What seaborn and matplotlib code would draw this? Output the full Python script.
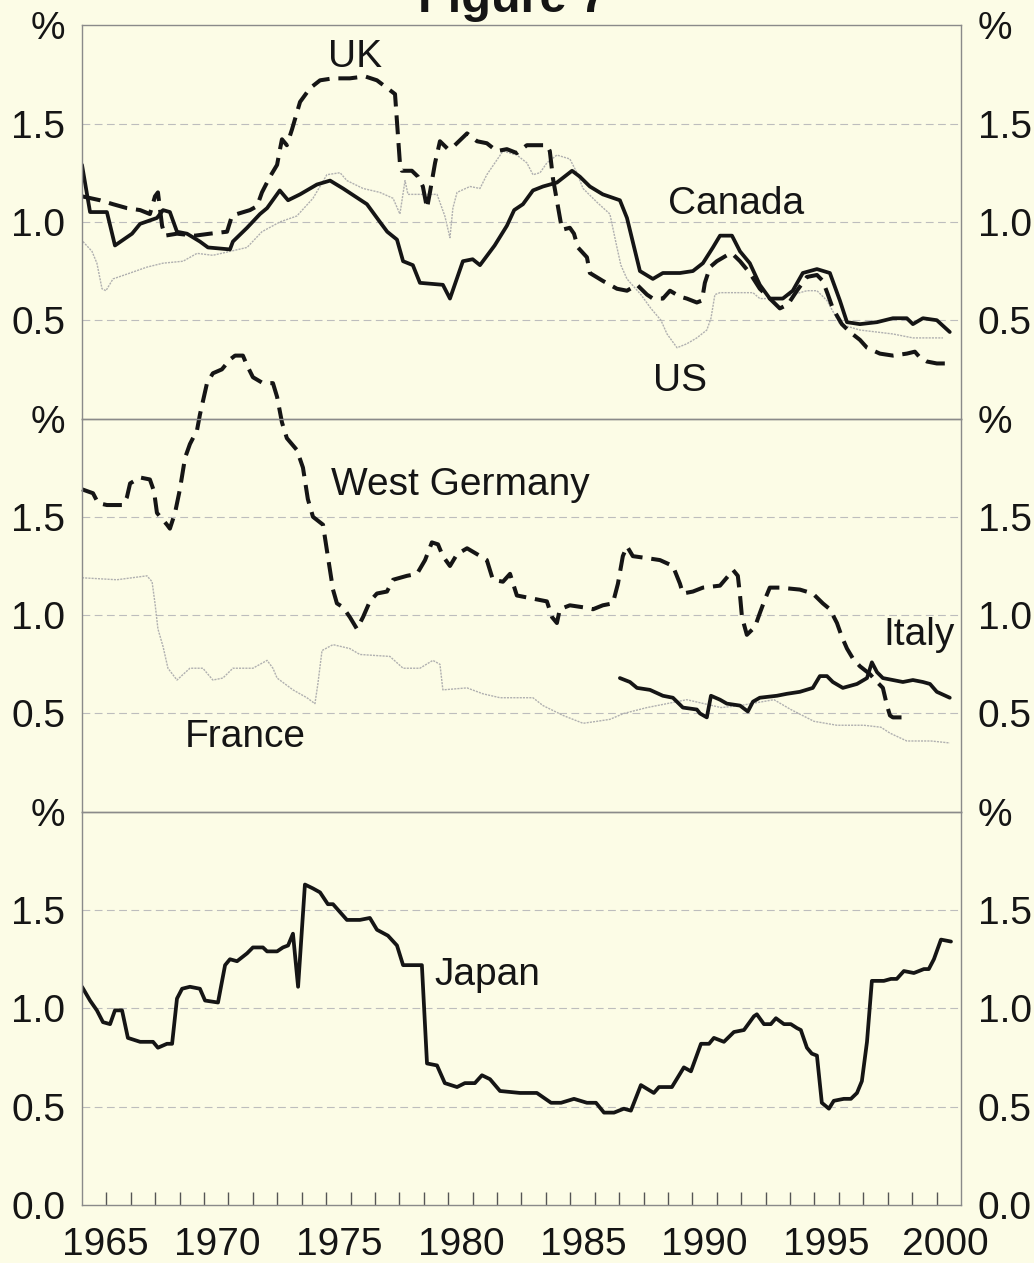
import matplotlib
matplotlib.use("Agg")
import matplotlib.pyplot as plt
import seaborn as sns

# ---- top panel: Canada (solid), UK (dashed), US (pale) ----
canada_year = [
    1964.00, 1964.33, 1965.02, 1965.35, 1966.05, 1966.38, 1967.07, 1967.32, 1967.60, 1967.89,
    1968.30, 1968.83, 1969.16, 1970.06, 1970.18, 1970.76, 1971.29, 1971.58, 1972.10, 1972.44,
    1972.93, 1973.62, 1974.16, 1974.69, 1975.67, 1976.20, 1976.50, 1976.90, 1977.15, 1977.55,
    1977.84, 1978.78, 1979.07, 1979.60, 1980.00, 1980.30, 1980.90, 1981.40, 1981.70, 1982.06,
    1982.47, 1982.88, 1983.45, 1984.07, 1984.39, 1984.80, 1985.33, 1986.03, 1986.32, 1986.85,
    1987.38, 1987.79, 1988.08, 1988.49, 1989.02, 1989.43, 1989.84, 1990.13, 1990.62, 1990.95,
    1991.35, 1991.76, 1992.17, 1992.70, 1993.11, 1993.52, 1994.10, 1994.63, 1995.04, 1995.33,
    1995.86, 1996.56, 1997.21, 1997.78, 1998.03, 1998.44, 1999.01, 1999.54]
canada_val = [
    1.29, 1.05, 1.05, 0.88, 0.94, 0.99, 1.02, 1.06, 1.05, 0.95,
    0.94, 0.90, 0.87, 0.86, 0.90, 0.97, 1.04, 1.07, 1.16, 1.11,
    1.14, 1.19, 1.21, 1.17, 1.09, 1.00, 0.95, 0.91, 0.80, 0.78,
    0.69, 0.68, 0.61, 0.80, 0.81, 0.78, 0.88, 0.98, 1.06, 1.09,
    1.16, 1.18, 1.20, 1.26, 1.23, 1.18, 1.14, 1.11, 1.02, 0.75,
    0.71, 0.74, 0.74, 0.74, 0.75, 0.79, 0.87, 0.93, 0.93, 0.85,
    0.79, 0.68, 0.61, 0.61, 0.65, 0.74, 0.76, 0.74, 0.60, 0.49,
    0.48, 0.49, 0.51, 0.51, 0.48, 0.51, 0.50, 0.44]

uk_year = [
    1964.00, 1964.74, 1965.27, 1965.84, 1966.38, 1966.78, 1966.99, 1967.11, 1967.28, 1967.40,
    1967.89, 1968.63, 1969.24, 1969.94, 1970.14, 1970.35, 1970.88, 1971.17, 1971.37, 1971.70,
    1971.99, 1972.11, 1972.19, 1972.39, 1972.60, 1972.93, 1973.34, 1973.75, 1974.28, 1974.97,
    1975.59, 1976.08, 1976.61, 1976.82, 1976.90, 1977.02, 1977.10, 1977.51, 1977.76, 1977.96,
    1978.13, 1978.25, 1978.46, 1978.66, 1978.99, 1979.27, 1979.77, 1980.18, 1980.58, 1980.99,
    1981.40, 1981.81, 1982.22, 1983.04, 1983.16, 1983.29, 1983.49, 1983.66, 1983.98, 1984.15,
    1984.31, 1984.68, 1984.80, 1985.33, 1985.91, 1986.32, 1986.73, 1987.14, 1987.38, 1987.79,
    1988.08, 1988.49, 1988.77, 1989.18, 1989.39, 1989.51, 1989.72, 1990.00, 1990.41, 1990.62,
    1990.95, 1991.35, 1991.76, 1992.17, 1992.58, 1992.91, 1993.28, 1993.69, 1994.10, 1994.34,
    1994.55, 1994.75, 1995.12, 1995.45, 1995.86, 1996.15, 1996.68, 1997.21, 1997.78, 1998.11,
    1998.32, 1998.60, 1999.01, 1999.42]
uk_val = [
    1.13, 1.11, 1.09, 1.07, 1.06, 1.04, 1.13, 1.15, 0.98, 0.93,
    0.94, 0.93, 0.94, 0.95, 1.03, 1.04, 1.06, 1.08, 1.15, 1.23,
    1.29, 1.37, 1.42, 1.39, 1.47, 1.61, 1.68, 1.72, 1.73, 1.73,
    1.74, 1.72, 1.67, 1.65, 1.51, 1.30, 1.26, 1.26, 1.23, 1.18,
    1.07, 1.15, 1.30, 1.41, 1.37, 1.39, 1.45, 1.41, 1.40, 1.36,
    1.37, 1.35, 1.39, 1.39, 1.36, 1.22, 1.08, 0.96, 0.97, 0.94,
    0.87, 0.82, 0.74, 0.70, 0.66, 0.65, 0.68, 0.63, 0.61, 0.61,
    0.65, 0.62, 0.61, 0.59, 0.60, 0.69, 0.77, 0.80, 0.83, 0.84,
    0.80, 0.74, 0.66, 0.61, 0.56, 0.58, 0.65, 0.72, 0.73, 0.70,
    0.63, 0.56, 0.48, 0.44, 0.40, 0.36, 0.33, 0.32, 0.33, 0.34,
    0.31, 0.29, 0.28, 0.28]

us_year = [
    1964.04, 1964.41, 1964.61, 1964.82, 1964.98, 1965.27, 1965.97, 1966.66, 1967.32, 1968.14,
    1968.71, 1969.36, 1970.06, 1970.76, 1971.37, 1972.11, 1972.80, 1973.46, 1974.03, 1974.57,
    1974.85, 1975.51, 1976.20, 1976.74, 1977.02, 1977.23, 1977.35, 1978.54, 1978.86, 1979.07,
    1979.19, 1979.36, 1979.89, 1980.30, 1980.58, 1980.91, 1981.24, 1981.81, 1982.22, 1982.47,
    1982.76, 1983.04, 1983.45, 1983.98, 1984.27, 1984.52, 1985.09, 1985.62, 1985.91, 1986.07,
    1986.32, 1986.89, 1987.30, 1987.71, 1987.96, 1988.37, 1988.77, 1989.18, 1989.59, 1989.76,
    1989.92, 1990.13, 1991.48, 1991.76, 1992.46, 1993.11, 1993.69, 1994.10, 1994.51, 1995.04,
    1995.86, 1997.21, 1998.03, 1999.26]
us_val = [
    0.90, 0.85, 0.79, 0.66, 0.65, 0.71, 0.74, 0.77, 0.79, 0.80,
    0.84, 0.83, 0.85, 0.87, 0.95, 1.00, 1.03, 1.12, 1.24, 1.25,
    1.21, 1.17, 1.15, 1.12, 1.04, 1.21, 1.14, 1.14, 1.03, 0.92,
    1.07, 1.15, 1.18, 1.17, 1.24, 1.30, 1.36, 1.34, 1.30, 1.24,
    1.25, 1.30, 1.34, 1.32, 1.25, 1.17, 1.10, 1.04, 0.87, 0.78,
    0.71, 0.63, 0.56, 0.50, 0.43, 0.36, 0.38, 0.41, 0.45, 0.51,
    0.63, 0.64, 0.64, 0.61, 0.61, 0.63, 0.65, 0.65, 0.60, 0.48,
    0.45, 0.43, 0.41, 0.41]

# ---- middle panel: West Germany (dashed), Italy (solid), France (pale) ----
wgermany_year = [
    1964.00, 1964.45, 1964.66, 1965.02, 1965.68, 1965.84, 1965.97, 1966.38, 1966.78, 1966.95,
    1967.07, 1967.48, 1967.60, 1967.81, 1968.01, 1968.22, 1968.42, 1968.71, 1968.83, 1969.12,
    1969.36, 1969.73, 1970.06, 1970.27, 1970.59, 1970.76, 1971.00, 1971.41, 1971.82, 1971.99,
    1972.19, 1972.39, 1972.80, 1973.05, 1973.25, 1973.46, 1973.87, 1974.03, 1974.28, 1974.44,
    1974.69, 1974.97, 1975.26, 1975.51, 1975.79, 1976.08, 1976.49, 1976.74, 1977.31, 1977.72,
    1978.05, 1978.33, 1978.58, 1978.78, 1979.07, 1979.36, 1979.77, 1980.18, 1980.58, 1980.83,
    1981.24, 1981.53, 1981.81, 1982.22, 1982.63, 1983.04, 1983.25, 1983.45, 1983.57, 1983.98,
    1984.52, 1984.93, 1985.33, 1985.74, 1985.95, 1986.15, 1986.32, 1986.56, 1987.14, 1987.67,
    1988.20, 1988.49, 1988.61, 1989.02, 1989.43, 1990.13, 1990.54, 1990.66, 1990.86, 1990.95,
    1991.03, 1991.23, 1991.56, 1991.76, 1991.97, 1992.17, 1992.58, 1993.40, 1993.93, 1994.34,
    1994.63, 1994.92, 1995.12, 1995.33, 1995.57, 1995.86, 1996.27, 1996.56, 1996.80, 1996.97,
    1997.09, 1997.21, 1997.70]
wgermany_val = [
    1.64, 1.62, 1.57, 1.56, 1.56, 1.60, 1.67, 1.70, 1.69, 1.63,
    1.52, 1.46, 1.44, 1.52, 1.64, 1.80, 1.87, 1.94, 2.02, 2.18,
    2.23, 2.25, 2.30, 2.32, 2.32, 2.27, 2.21, 2.18, 2.18, 2.11,
    1.98, 1.90, 1.84, 1.75, 1.59, 1.50, 1.46, 1.33, 1.13, 1.06,
    1.04, 0.99, 0.93, 0.99, 1.07, 1.11, 1.12, 1.18, 1.20, 1.21,
    1.28, 1.37, 1.36, 1.30, 1.25, 1.31, 1.34, 1.31, 1.28, 1.18,
    1.17, 1.21, 1.10, 1.09, 1.08, 1.07, 0.99, 0.96, 1.03, 1.05,
    1.04, 1.03, 1.05, 1.06, 1.16, 1.30, 1.35, 1.30, 1.29, 1.28,
    1.25, 1.16, 1.11, 1.12, 1.14, 1.15, 1.21, 1.23, 1.20, 1.10,
    0.99, 0.90, 0.94, 1.01, 1.08, 1.14, 1.14, 1.13, 1.11, 1.06,
    1.03, 0.96, 0.89, 0.83, 0.78, 0.74, 0.70, 0.66, 0.63, 0.54,
    0.49, 0.48, 0.48]

italy_year = [
    1986.03, 1986.44, 1986.73, 1987.26, 1987.79, 1988.20, 1988.61, 1989.18, 1989.31, 1989.59,
    1989.76, 1990.13, 1990.41, 1990.95, 1991.27, 1991.48, 1991.76, 1992.46, 1992.87, 1993.40,
    1993.93, 1994.22, 1994.51, 1994.75, 1995.16, 1995.74, 1996.15, 1996.35, 1996.56, 1996.80,
    1997.21, 1997.62, 1998.03, 1998.44, 1998.73, 1999.01, 1999.54]
italy_val = [
    0.68, 0.66, 0.63, 0.62, 0.59, 0.58, 0.53, 0.52, 0.50, 0.48,
    0.59, 0.57, 0.55, 0.54, 0.51, 0.56, 0.58, 0.59, 0.60, 0.61,
    0.63, 0.69, 0.69, 0.66, 0.63, 0.65, 0.68, 0.76, 0.71, 0.68,
    0.67, 0.66, 0.67, 0.66, 0.65, 0.61, 0.58]

france_year = [
    1964.00, 1965.43, 1966.66, 1966.87, 1966.99, 1967.11, 1967.32, 1967.52, 1967.89, 1968.42,
    1968.95, 1969.36, 1969.77, 1970.18, 1971.00, 1971.58, 1971.82, 1971.99, 1972.64, 1973.21,
    1973.54, 1973.66, 1973.83, 1974.28, 1974.97, 1975.38, 1976.61, 1977.15, 1977.84, 1978.37,
    1978.66, 1978.78, 1979.77, 1980.42, 1981.12, 1981.94, 1982.47, 1982.88, 1983.70, 1984.52,
    1985.09, 1985.62, 1986.19, 1987.14, 1987.96, 1988.77, 1989.47, 1990.17, 1990.95, 1992.34,
    1993.03, 1993.98, 1994.92, 1996.02, 1996.72, 1997.09, 1997.78, 1998.77, 1999.54]
france_val = [
    1.19, 1.18, 1.20, 1.17, 1.06, 0.93, 0.84, 0.73, 0.67, 0.73,
    0.73, 0.67, 0.68, 0.73, 0.73, 0.77, 0.73, 0.68, 0.62, 0.58,
    0.55, 0.65, 0.82, 0.85, 0.83, 0.80, 0.79, 0.73, 0.73, 0.77,
    0.75, 0.62, 0.63, 0.60, 0.58, 0.58, 0.58, 0.54, 0.49, 0.45,
    0.46, 0.47, 0.50, 0.53, 0.55, 0.57, 0.55, 0.53, 0.54, 0.57,
    0.52, 0.46, 0.44, 0.44, 0.43, 0.40, 0.36, 0.36, 0.35]

# ---- bottom panel: Japan ----
japan_year = [
    1964.00, 1964.33, 1964.61, 1964.86, 1965.15, 1965.35, 1965.64, 1965.88, 1966.38, 1966.91,
    1967.11, 1967.48, 1967.69, 1967.89, 1968.10, 1968.42, 1968.83, 1969.04, 1969.57, 1969.86,
    1970.06, 1970.35, 1970.76, 1971.00, 1971.41, 1971.58, 1971.99, 1972.23, 1972.44, 1972.64,
    1972.85, 1973.13, 1973.46, 1973.75, 1974.07, 1974.28, 1974.85, 1975.38, 1975.79, 1976.08,
    1976.53, 1976.90, 1977.15, 1977.92, 1978.13, 1978.54, 1978.86, 1979.36, 1979.68, 1980.09,
    1980.38, 1980.71, 1981.12, 1981.94, 1982.63, 1983.21, 1983.62, 1984.15, 1984.68, 1985.05,
    1985.38, 1985.79, 1986.19, 1986.48, 1986.89, 1987.42, 1987.63, 1988.16, 1988.65, 1988.94,
    1989.35, 1989.68, 1989.88, 1990.29, 1990.70, 1991.11, 1991.52, 1991.64, 1991.93, 1992.21,
    1992.42, 1992.75, 1993.03, 1993.28, 1993.44, 1993.69, 1993.89, 1994.10, 1994.30, 1994.59,
    1994.79, 1995.20, 1995.49, 1995.74, 1995.94, 1996.15, 1996.35, 1996.84, 1997.13, 1997.37,
    1997.66, 1998.07, 1998.48, 1998.68, 1998.89, 1999.18, 1999.59]
japan_val = [
    1.11, 1.04, 0.99, 0.93, 0.92, 0.99, 0.99, 0.85, 0.83, 0.83,
    0.80, 0.82, 0.82, 1.05, 1.10, 1.11, 1.10, 1.04, 1.03, 1.22,
    1.25, 1.24, 1.28, 1.31, 1.31, 1.29, 1.29, 1.31, 1.32, 1.38,
    1.11, 1.63, 1.61, 1.59, 1.53, 1.53, 1.45, 1.45, 1.46, 1.40,
    1.37, 1.32, 1.22, 1.22, 0.72, 0.71, 0.62, 0.60, 0.62, 0.62,
    0.66, 0.64, 0.58, 0.57, 0.57, 0.52, 0.52, 0.54, 0.52, 0.52,
    0.47, 0.47, 0.49, 0.48, 0.61, 0.57, 0.60, 0.60, 0.70, 0.68,
    0.82, 0.82, 0.85, 0.83, 0.88, 0.89, 0.96, 0.97, 0.92, 0.92,
    0.95, 0.92, 0.92, 0.90, 0.89, 0.80, 0.77, 0.76, 0.52, 0.49,
    0.53, 0.54, 0.54, 0.57, 0.63, 0.83, 1.14, 1.14, 1.15, 1.15,
    1.19, 1.18, 1.20, 1.20, 1.25, 1.35, 1.34]

# axis text
ytick_vals = [0.0, 0.5, 1.0, 1.5, 2.0]
ytick_text_bottom = ["0.0", "0.5", "1.0", "1.5", "%"]
ytick_text_upper = ["", "0.5", "1.0", "1.5", "%"]
grid_levels = [0.5, 1.0, 1.5]
year_ticks = list(range(1965, 2000))
year_labels = ["1965", "1970", "1975", "1980", "1985", "1990", "1995", "2000"]
year_label_pos = [1964.95, 1969.55, 1974.55, 1979.55, 1984.55, 1989.5, 1994.5, 1999.35]

BG = "#fcfce6"
INK = "#151515"
PALE = "#b0b0b0"
FRAME = "#8a8a8a"

sns.set_style("white")
plt.rcParams['font.family'] = ['Liberation Sans', 'DejaVu Sans']

fig, axes = plt.subplots(3, 1, figsize=(10.34, 12.63), dpi=100, sharex=True)
fig.patch.set_facecolor(BG)
fig.subplots_adjust(left=0.0793, right=0.9294, bottom=0.0459, top=0.980, hspace=0)


def draw(ax, years, vals, kind, clip=True):
    if kind == "solid":
        kw = dict(color=INK, linewidth=2.7, linestyle="-")
    elif kind == "dashed":
        kw = dict(color=INK, linewidth=2.9, linestyle=(0, (4.7, 2.2)))
    else:
        kw = dict(color=PALE, linewidth=1.0, linestyle=(0, (1.5, 0.8)))
    sns.lineplot(x=years, y=vals, ax=ax, sort=False, estimator=None, legend=False, **kw)
    ax.lines[-1].set_clip_on(clip)


for i, ax in enumerate(axes):
    ax.set_facecolor("none")
    ax.set_xlim(1964, 2000)
    ax.set_ylim(0, 2.0)
    for lvl in grid_levels:
        ax.axhline(lvl, color="#bdbdbd", linewidth=0.8, linestyle=(0, (7, 4)), zorder=0)
    ax.set_yticks(ytick_vals)
    ax.set_yticklabels(ytick_text_bottom if i == 2 else ytick_text_upper)
    ax.tick_params(axis="y", length=0, labelsize=28, left=True, right=True,
                   labelleft=True, labelright=True, pad=12, labelcolor=INK)
    for s in ax.spines.values():
        s.set_color(FRAME)
        s.set_linewidth(1.0)
    if i < 2:
        ax.tick_params(axis="x", which="both", bottom=False, top=False, labelbottom=False)

# top panel
top = axes[0]
draw(top, us_year, us_val, "pale")
draw(top, uk_year, uk_val, "dashed")
draw(top, canada_year, canada_val, "solid")
top.text(1975.2, 1.79, "UK", fontsize=28, ha="center", va="baseline", color=INK)
top.text(1990.8, 1.04, "Canada", fontsize=28, ha="center", va="baseline", color=INK)
top.text(1988.5, 0.14, "US", fontsize=28, ha="center", va="baseline", color=INK)

# middle panel
mid = axes[1]
draw(mid, france_year, france_val, "pale")
draw(mid, wgermany_year, wgermany_val, "dashed", clip=False)
draw(mid, italy_year, italy_val, "solid")
mid.text(1979.5, 1.61, "West Germany", fontsize=28, ha="center", va="baseline", color=INK)
mid.text(1970.7, 0.33, "France", fontsize=28, ha="center", va="baseline", color=INK)
mid.text(1998.27, 0.85, "Italy", fontsize=28, ha="center", va="baseline", color=INK)

# bottom panel
bot = axes[2]
draw(bot, japan_year, japan_val, "solid")
bot.text(1980.6, 1.12, "Japan", fontsize=28, ha="center", va="baseline", color=INK)
bot.set_xticks(year_label_pos)
bot.set_xticklabels(year_labels)
bot.set_xticks(year_ticks, minor=True)
bot.tick_params(axis="x", which="major", length=0, labelsize=28, pad=16, labelcolor=INK)
bot.tick_params(axis="x", which="minor", direction="in", length=9.5, width=1.0,
                color="#555555", bottom=True, top=False)

for ax in axes:
    ax.set_xlabel("")
    ax.set_ylabel("")

# the title sits mostly above the top edge, as in the scanned original
fig.text(0.496, 1 - 12 / 1263, "Figure 7", ha="center", va="baseline",
         fontsize=35, fontweight="bold", color=INK)

fig.savefig("out.png", dpi=100, facecolor=BG)
